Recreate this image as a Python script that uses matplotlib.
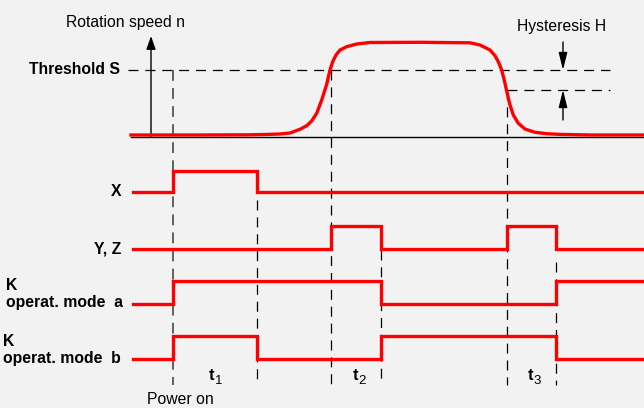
# timing diagram: rotation speed monitor with threshold / hysteresis

import matplotlib.pyplot as plt
from matplotlib.patches import FancyArrowPatch

plt.rcParams["font.family"] = ["Liberation Sans", "DejaVu Sans"]

# time axis (diagram units)
t_start = 131
t_end = 644
power_on = 173
t1_end = 257
rise_S = 331   # speed crosses threshold S going up
t2_end = 381
fall_SH = 507  # speed crosses S-H going down
t3_end = 556

# rotation speed (time, level in diagram units, 0 = stopped)
speed_t = [131, 200, 250, 265, 280, 290, 300, 306.7, 311.7, 316.7, 321.7, 326.7,
           330, 332.7, 336, 340, 346.7, 356.7, 370, 420, 470, 480, 490, 495,
           498.3, 501.7, 505, 506.7, 510, 513.3, 518.3, 525, 535, 546.7, 560,
           590, 644]
speed_n = [0, 0, 0.2, 0.5, 1, 2, 5.7, 9.3, 14, 21.7, 35, 50.7,
           65, 73.3, 80, 85, 88.3, 91, 92.5, 92.7, 92.2, 90, 85, 79.3,
           73.3, 65, 51.7, 44, 30, 20, 11.7, 6, 2.7, 1.3, 0.6,
           0, 0]
threshold_S = 65
threshold_SH = 45

# switching outputs: edge times, starting low
signals = ["X", "Y, Z", "K\noperat. mode  a", "K\noperat. mode  b"]
edges = {
    "X": [power_on, t1_end],
    "Y, Z": [rise_S, t2_end, fall_SH, t3_end],
    "K\noperat. mode  a": [power_on, t2_end, t3_end],
    "K\noperat. mode  b": [power_on, t1_end, t2_end, t3_end],
}

# layout (pixels)
base_y = 135
row_low = [192, 249, 304, 359]
row_high = [171, 226, 281, 336]
red = "#ff0000"
fs = 11.3
dash = (0, (8, 5.5))

fig = plt.figure(figsize=(6.44, 4.08), dpi=100)
fig.patch.set_facecolor("#f2f2f2")
ax = fig.add_axes([0, 0, 1, 1])
ax.set_xlim(0, 644)
ax.set_ylim(408, 0)
ax.axis("off")


def ypix(n):
    return base_y - n


# speed axis
ax.plot([t_start, t_end], [137, 137], color="black", lw=1)
ax.add_patch(FancyArrowPatch((151, 137), (151, 36),
                             arrowstyle="-|>,head_length=8,head_width=2.8",
                             color="black", lw=1, shrinkA=0, shrinkB=0,
                             mutation_scale=1))
ax.text(126, 23, "Rotation speed n", ha="center", va="center", fontsize=fs)

# threshold lines
ax.plot([128, 610], [ypix(threshold_S)] * 2, color="black", lw=0.9, ls=dash)
ax.plot([fall_SH, 610], [ypix(threshold_SH)] * 2, color="black", lw=0.9, ls=dash)
ax.text(120, ypix(threshold_S), "Threshold S", ha="right", va="center",
        fontsize=fs, fontweight="bold")

# hysteresis arrows
hx = 563
for y0, y1 in [(42, ypix(threshold_S)), (120, ypix(threshold_SH))]:
    ax.add_patch(FancyArrowPatch((hx, y0), (hx, y1),
                                 arrowstyle="-|>,head_length=10.5,head_width=2.6",
                                 color="black", lw=1, shrinkA=0, shrinkB=0,
                                 mutation_scale=1))
ax.text(562, 27, "Hysteresis H", ha="center", va="center", fontsize=fs)

# speed curve
ax.plot(speed_t, [ypix(n) for n in speed_n], color=red, lw=2.4,
        solid_joinstyle="round", zorder=5)

# vertical markers
ax.plot([power_on, power_on], [ypix(threshold_S), 385], color="#555555",
        lw=1.3, ls=(0, (6, 4)))
vlines = [(t1_end, 200), (rise_S, ypix(threshold_S)), (t2_end, 250),
          (fall_SH, ypix(threshold_SH)), (t3_end, 262)]
for x, ytop in vlines:
    ax.plot([x, x], [ytop, 385], color="black", lw=0.9, ls=dash)

# switching signals
for i, name in enumerate(signals):
    xs = [133]
    level = 0
    ys = [row_low[i]]
    for e in edges[name]:
        xs += [e, e]
        ys += [ys[-1], row_high[i] if level == 0 else row_low[i]]
        level = 1 - level
    xs.append(t_end)
    ys.append(ys[-1])
    ax.plot(xs, ys, color=red, lw=2.4, solid_joinstyle="miter", zorder=5)

ax.text(121, row_low[0], "X", ha="right", va="center", fontsize=fs, fontweight="bold")
ax.text(121, row_low[1], "Y, Z", ha="right", va="center", fontsize=fs, fontweight="bold")
ax.text(6, 285, "K", ha="left", va="center", fontsize=fs, fontweight="bold")
ax.text(6, 303, "operat. mode  a", ha="left", va="center", fontsize=fs, fontweight="bold")
ax.text(3, 341, "K", ha="left", va="center", fontsize=fs, fontweight="bold")
ax.text(3, 359, "operat. mode  b", ha="left", va="center", fontsize=fs, fontweight="bold")

# interval labels
for label, cx in [("1", 214), ("2", 358), ("3", 533)]:
    ax.text(cx, 376, "t", ha="right", va="center", fontsize=fs + 0.5, fontweight="bold")
    ax.text(cx + 0.5, 381, label, ha="left", va="center", fontsize=9.5)

ax.text(180, 400, "Power on", ha="center", va="center", fontsize=fs)

fig.savefig("out.png", dpi=100, facecolor=fig.get_facecolor())
